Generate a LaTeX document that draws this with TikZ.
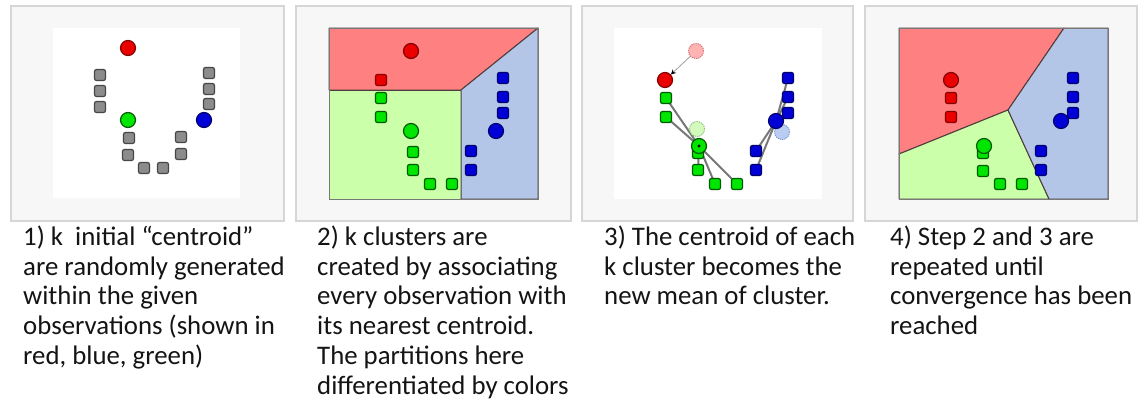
\documentclass[tikz,border=0pt]{standalone}
\usepackage{fontspec}
\setmainfont{Carlito}
\usetikzlibrary{arrows.meta}
\pgfdeclarelayer{back}
\pgfdeclarelayer{mid}
\pgfsetlayers{back,mid,main}
\definecolor{panelfill}{RGB}{247,247,247}
\definecolor{panelline}{RGB}{214,214,214}
\definecolor{cred}{RGB}{235,0,0}
\definecolor{credd}{RGB}{130,0,0}
\definecolor{cgreen}{RGB}{0,230,0}
\definecolor{cgreend}{RGB}{0,90,0}
\definecolor{cblue}{RGB}{0,0,215}
\definecolor{cblued}{RGB}{0,0,110}
\definecolor{cgray}{RGB}{140,140,140}
\definecolor{cgrayd}{RGB}{70,70,70}
\definecolor{rred}{RGB}{255,128,128}
\definecolor{rgreen}{RGB}{204,255,170}
\definecolor{rblue}{RGB}{179,198,231}
\definecolor{regline}{RGB}{80,60,60}
\definecolor{frameline}{RGB}{120,120,120}
\definecolor{fred}{RGB}{255,180,180}
\definecolor{fredd}{RGB}{215,110,110}
\definecolor{fgreen}{RGB}{212,250,190}
\definecolor{fgreend}{RGB}{140,195,120}
\definecolor{fblue}{RGB}{185,205,242}
\definecolor{fblued}{RGB}{120,150,210}
\definecolor{linkc}{RGB}{120,120,120}
\definecolor{txtc}{RGB}{20,20,20}
\begin{document}
\begin{tikzpicture}[x=1pt,y=-1pt,
  panel/.style={draw=panelline,fill=panelfill,line width=1.5pt},
  plotarea/.style={fill=white},
  region/.style={draw=regline,line width=1pt,line join=round},
  cen/.style={circle,minimum size=15pt,inner sep=0pt,line width=1.2pt},
  obs/.style={rectangle,rounded corners=2pt,minimum size=11pt,inner sep=0pt,line width=1.2pt},
  redc/.style={cen,fill=cred,draw=credd},
  greenc/.style={cen,fill=cgreen,draw=cgreend},
  bluec/.style={cen,fill=cblue,draw=cblued},
  fadedred/.style={cen,fill=fred,draw=fredd,densely dotted,line width=1pt},
  fadedgreen/.style={cen,fill=fgreen,draw=fgreend,densely dotted,line width=1pt},
  fadedblue/.style={cen,fill=fblue,draw=fblued,densely dotted,line width=1pt},
  grayo/.style={obs,fill=cgray,draw=cgrayd},
  redo/.style={obs,fill=cred,draw=credd},
  greeno/.style={obs,fill=cgreen,draw=cgreend},
  blueo/.style={obs,fill=cblue,draw=cblued},
  link/.style={draw=linkc,line width=2pt},
  move/.style={draw=linkc!70,line width=0.8pt,-{Stealth[black,length=5pt,width=5pt]}},
  txt/.style={anchor=north west,inner sep=0pt,align=left,text=txtc,font=\fontsize{26.8}{29.8}\selectfont}
]
\useasboundingbox (0,0) rectangle (1140,402);
\begin{pgfonlayer}{back}
\fill[white] (0,0) rectangle (1140,402);
% panel frames
\draw[panel] (11,6) rectangle (284,221);
\draw[panel] (296,6) rectangle (571,221);
\draw[panel] (582,6) rectangle (853,221);
\draw[panel] (865,6) rectangle (1137,221);
% panel 1 and 3 plot areas
\fill[plotarea] (53,28) rectangle (240,198);
\fill[plotarea] (614,28) rectangle (822,199);
% panel 2 regions
\filldraw[region,fill=rred] (329,28) -- (538,28) -- (461,90) -- (329,90) -- cycle;
\filldraw[region,fill=rgreen] (329,90) -- (461,90) -- (461,199) -- (329,199) -- cycle;
\filldraw[region,fill=rblue] (461,90) -- (538,28) -- (538,199) -- (461,199) -- cycle;
\draw[frameline,line width=0.8pt] (329,28) rectangle (538,199);
% panel 4 regions
\filldraw[region,fill=rred] (899,28) -- (1064,28) -- (1008,110) -- (899,154) -- cycle;
\filldraw[region,fill=rgreen] (899,154) -- (1008,110) -- (1049,199) -- (899,199) -- cycle;
\filldraw[region,fill=rblue] (1064,28) -- (1108,28) -- (1108,199) -- (1049,199) -- (1008,110) -- cycle;
\draw[frameline,line width=0.8pt] (899,28) rectangle (1108,199);
\end{pgfonlayer}

% ---------- panel 1 ----------
\foreach \n/\x/\y in {1/100/75,2/100/91,3/100/107,4/209/73,5/209/89,6/209/104,
  7/129/138,8/128/155,9/144/168,10/163/168,11/181/137,12/181/154}
  \node[grayo] (a\n) at (\x,\y) {};
\node[redc] (ar) at (128,48) {};
\node[greenc] (ag) at (128,120) {};
\node[bluec] (ab) at (204,120) {};

% ---------- panel 2 ----------
\node[redo] (br1) at (381,80) {};
\foreach \n/\x/\y in {1/381/98,2/381/117,3/413/152,4/413/170,5/430/184,6/452/184}
  \node[greeno] (bg\n) at (\x,\y) {};
\foreach \n/\x/\y in {1/503/78,2/503/97,3/503/113,4/471/151,5/471/170}
  \node[blueo] (bb\n) at (\x,\y) {};
\node[redc] (brc) at (411,51) {};
\node[greenc] (bgc) at (411,131) {};
\node[bluec] (bbc) at (496,131) {};

% ---------- panel 3 ----------
\node[fadedred] (cfr) at (696,51) {};
\node[fadedgreen] (cfg) at (697,129) {};
\node[fadedblue] (cfb) at (782,132) {};
\node[greeno] (cg0) at (698,153) {};
\foreach \n/\x/\y in {1/666/98,2/666/117,3/698/170,4/715/184,5/737/184}
  \node[greeno] (cg\n) at (\x,\y) {};
\foreach \n/\x/\y in {1/788/78,2/788/97,3/788/113,4/756/151,5/756/170}
  \node[blueo] (cb\n) at (\x,\y) {};
\node[redc] (crc) at (665,80) {};
\node[greenc] (cgc) at (699,146) {};
\node[bluec] (cbc) at (776,121) {};
\fill[black] (cgc.center) circle (1.6pt);
\begin{pgfonlayer}{mid}
\foreach \n in {1,2,3,4,5} \draw[link] (cg\n.center) -- (cgc.center);
\foreach \n in {1,2,3,4,5} \draw[link] (cb\n.center) -- (cbc.center);
\end{pgfonlayer}
\draw[move] (cfr) -- (crc);

% ---------- panel 4 ----------
\node[redo] (dr1) at (951,98) {};
\node[redo] (dr2) at (951,117) {};
\node[greeno] (dg0) at (983,153) {};
\foreach \n/\x/\y in {1/983/171,2/1000/184,3/1022/184}
  \node[greeno] (dg\n) at (\x,\y) {};
\foreach \n/\x/\y in {1/1073/78,2/1073/97,3/1073/113,4/1041/151,5/1041/170}
  \node[blueo] (db\n) at (\x,\y) {};
\node[redc] (drc) at (951,80) {};
\node[greenc] (dgc) at (984,146) {};
\node[bluec] (dbc) at (1061,121) {};

% ---------- captions ----------
\node[txt] (t1) at (23,223) {\rule{0pt}{22pt}1) k\hspace{0.45em}initial “centroid”\\are randomly generated\\within the given\\observations (shown in\\red, blue, green)};
\node[txt] (t2) at (317,223) {\rule{0pt}{22pt}2) k clusters are\\created by associating\\every observation with\\its nearest centroid.\\The partitions here\\differentiated by colors};
\node[txt] (t3) at (604,223) {\rule{0pt}{22pt}3) The centroid of each\\k cluster becomes the\\new mean of cluster.};
\node[txt] (t4) at (890,223) {\rule{0pt}{22pt}4) Step 2 and 3 are\\repeated until\\convergence has been\\reached};
\end{tikzpicture}
\end{document}
